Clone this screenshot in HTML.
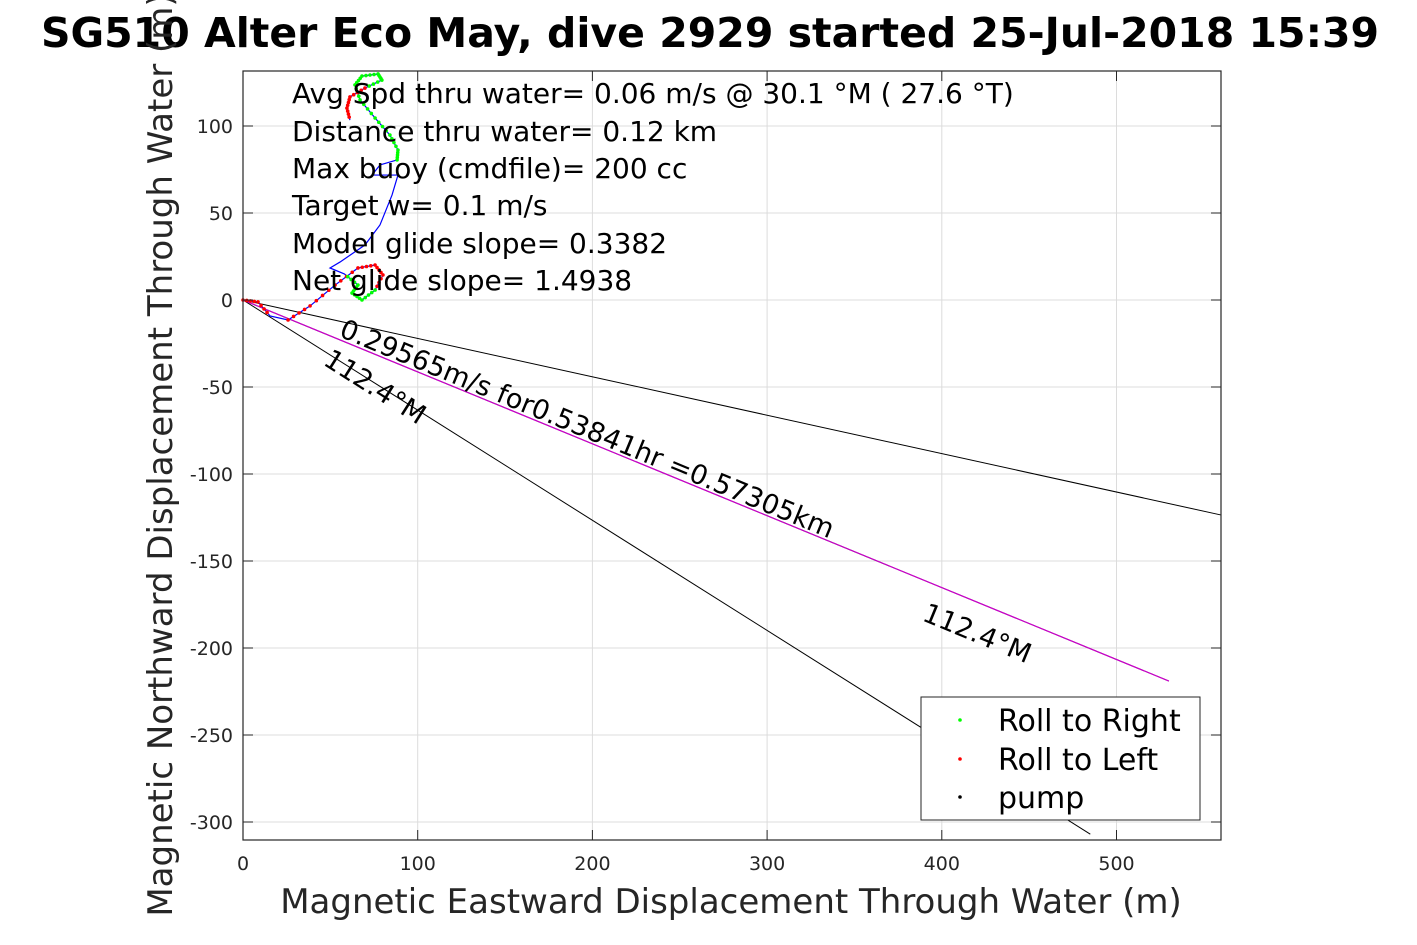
<!DOCTYPE html>
<html><head><meta charset="utf-8"><style>
html,body{margin:0;padding:0;background:#fff;width:1417px;height:945px;overflow:hidden}
svg{font-family:"DejaVu Sans","Liberation Sans",sans-serif}
</style></head><body>
<svg id="chart" width="1417" height="945" viewBox="0 0 1417 945" xmlns="http://www.w3.org/2000/svg">
<rect width="1417" height="945" fill="#fff"/>
<g id="grid"></g>
<g id="lines"></g>
<g id="track"></g>
<g id="ticks"></g>
<rect x="243" y="71" width="978" height="769" fill="none" stroke="#262626" stroke-width="1.2"/>
<g font-size="28" fill="#000">
<text x="292" y="103">Avg Spd thru water=  0.06 m/s @  30.1 °M ( 27.6 °T)</text>
<text x="292" y="141">Distance thru water=  0.12 km</text>
<text x="292" y="178">Max buoy (cmdfile)= 200 cc</text>
<text x="292" y="215">Target w= 0.1 m/s</text>
<text x="292" y="253">Model glide slope= 0.3382</text>
<text x="292" y="290">Net glide slope= 1.4938</text>
</g>
<text font-size="27" transform="translate(338,336) rotate(22.4)">0.29565m/s for0.53841hr =0.57305km</text>
<text font-size="27" transform="translate(322,364) rotate(32.4)">112.4°M</text>
<text font-size="27" transform="translate(921,620) rotate(22.4)">112.4°M</text>
<text x="710" y="47" font-size="41" font-weight="bold" text-anchor="middle">SG510 Alter Eco May, dive 2929 started 25-Jul-2018 15:39</text>
<text x="731" y="913" font-size="34" fill="#262626" text-anchor="middle">Magnetic Eastward Displacement Through Water (m)</text>
<text font-size="34" fill="#262626" text-anchor="middle" transform="translate(172,455) rotate(-90)">Magnetic Northward Displacement Through Water (m)</text>
<g>
<rect x="921" y="697" width="279" height="123" fill="#fff" stroke="#262626" stroke-width="1"/>
<circle cx="960" cy="720" r="1.8" fill="#0f0"/><text x="998" y="731" font-size="30">Roll to Right</text>
<circle cx="960" cy="759" r="1.8" fill="#f00"/><text x="998" y="770" font-size="30">Roll to Left</text>
<circle cx="960" cy="797" r="1.8" fill="#000"/><text x="998" y="808" font-size="30">pump</text>
</g>
</svg>
<script>
const xTicks=[0,100,200,300,400,500];
const yTicks=[100,50,0,-50,-100,-150,-200,-250,-300];
const lineEndsE=[560,485,530];
const lineEndsN=[-123.6,-307,-219];
const lineColors=['#000','#000','#c0c'];
const east=[0,8.6,15.5,25.8,38.4,52.7,65.8,75.6,80.1,75.6,68.1,62.4,65.8,58,49.8,55.5,69.8,78.4,85.3,88.7,73.8,78.4,88.2,88.7,84.1,75.6,67,64.1,68.1,77.3,79.5,69.8,61.2,59.5,61.2];
const north=[0,-1.1,-9.2,-11.5,-3.4,8.6,18.4,20.1,14.4,5.7,0,4,8.6,15,18.4,21.8,31.6,43.1,60.3,71.8,71.8,77.6,80.5,86.2,94.8,104.6,115,123.6,128.7,129.9,126.4,121.8,116.7,110.3,103.4];
const roll=['L','L','','L','L','L','L','L','L','R','R','R','R','','','','','','','','','','R','R','R','R','R','R','R','R','R','L','L','L','L'];
const X=v=>243+v*1.747, Y=v=>300-v*1.74;
const NS='http://www.w3.org/2000/svg';
function mk(t,a,p){const e=document.createElementNS(NS,t);for(const k in a)e.setAttribute(k,a[k]);p.appendChild(e);return e;}
const grid=document.getElementById('grid'),ticks=document.getElementById('ticks');
xTicks.forEach(v=>{
 const g=mk('line',{x1:X(v),x2:X(v),y1:71,y2:840,stroke:'#dcdcdc','stroke-width':1},grid);
 
 
 mk('line',{x1:X(v),x2:X(v),y1:840,y2:830,stroke:'#262626'},ticks);
 mk('line',{x1:X(v),x2:X(v),y1:71,y2:81,stroke:'#262626'},ticks);
 const t=mk('text',{x:X(v),y:870,'font-size':19,'text-anchor':'middle',fill:'#262626'},ticks);
 
 
 t.textContent=v;
});
yTicks.forEach(v=>{
 const g=mk('line',{x1:243,x2:1221,y1:Y(v),y2:Y(v),stroke:'#dcdcdc','stroke-width':1},grid);
 
 
 mk('line',{x1:243,x2:253,y1:Y(v),y2:Y(v),stroke:'#262626'},ticks);
 mk('line',{x1:1211,x2:1221,y1:Y(v),y2:Y(v),stroke:'#262626'},ticks);
 const t=mk('text',{x:233,y:Y(v)+7,'font-size':19,'text-anchor':'end',fill:'#262626'},ticks);
 
 
 t.textContent=v;
});
const lines=document.getElementById('lines');
lineEndsE.forEach((e,i)=>{
 if(i==2) mk('line',{x1:X(0),y1:Y(0),x2:X(e),y2:Y(lineEndsN[i]),stroke:'#000','stroke-width':1},lines);
 const l=mk('line',{x1:X(0),y1:Y(0),x2:X(e),y2:Y(lineEndsN[i]),stroke:lineColors[i],'stroke-width':i==2?1.2:1},lines);
 
 
});
const track=document.getElementById('track');
const p=mk('polyline',{points:east.map((e,i)=>X(e)+','+Y(north[i])).join(' '),fill:'none',stroke:'#00f','stroke-width':1.2},track);


for(let i=0;i<east.length-1;i++){
 if(!roll[i])continue;
 for(let k=0;k<4;k++){
  const f=k/4,e=east[i]+(east[i+1]-east[i])*f,n=north[i]+(north[i+1]-north[i])*f;
  const c=mk('circle',{cx:X(e),cy:Y(n),r:1.8,fill:roll[i]=='R'?'#0f0':'#f00'},track);
  
  
 }
}
</script>
</body></html>
